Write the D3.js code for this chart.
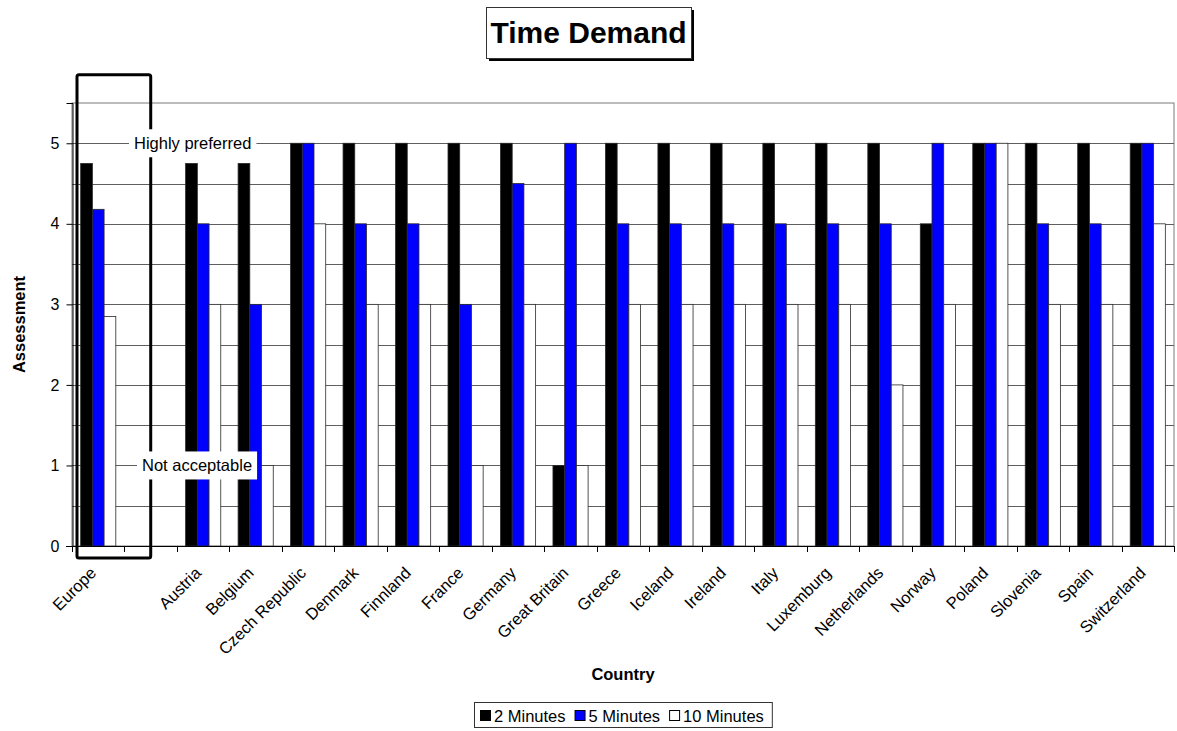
<!DOCTYPE html>
<html>
<head>
<meta charset="utf-8">
<title>Time Demand</title>
<script src="https://cdn.jsdelivr.net/npm/d3@7"></script>
<style>
  html, body { margin: 0; padding: 0; background: #fff; }
  svg { display: block; font-family: Arial, "Liberation Sans", sans-serif; }
</style>
</head>
<body>
<svg id="chart" width="1177" height="731"></svg>
<script>
// Countries (the empty entry leaves a gap after the European average)
const categories = ["Europe", "", "Austria", "Belgium", "Czech Republic", "Denmark", "Finnland",
  "France", "Germany", "Great Britain", "Greece", "Iceland", "Ireland", "Italy", "Luxemburg",
  "Netherlands", "Norway", "Poland", "Slovenia", "Spain", "Switzerland"];

// Assessment per waiting time
const twoMinutes  = [4.75, null, 4.75, 4.75, 5, 5, 5, 5, 5, 1, 5, 5, 5, 5, 5, 5, 4, 5, 5, 5, 5];
const fiveMinutes = [4.18, null, 4, 3, 5, 4, 4, 3, 4.5, 5, 4, 4, 4, 4, 4, 4, 5, 5, 4, 4, 5];
const tenMinutes  = [2.85, null, 3, 1, 4, 3, 3, 1, 3, 1, 3, 3, 3, 3, 3, 2, 3, 5, 3, 3, 4];

const seriesNames  = ["2 Minutes", "5 Minutes", "10 Minutes"];
const seriesColors = ["#000000", "#0000ff", "#ffffff"];
const yTicks = [0, 1, 2, 3, 4, 5];

const title = "Time Demand";
const xTitle = "Country";
const yTitle = "Assessment";
const topNote = "Highly preferred";
const bottomNote = "Not acceptable";

const seriesValues = [twoMinutes, fiveMinutes, tenMinutes];

const svg = d3.select("#chart");
const plot = { left: 72, right: 1174, top: 103, bottom: 546 };

const x = d3.scaleBand().domain(categories).range([plot.left, plot.right]).padding(0);
const xs = d3.scaleBand().domain(seriesNames).range([0, x.bandwidth()])
  .paddingInner(0).paddingOuter(0.74);
const y = d3.scaleLinear().domain([0, 5.5]).range([plot.bottom, plot.top]);

// Plot area frame
svg.append("rect")
  .attr("x", plot.left).attr("y", plot.top)
  .attr("width", plot.right - plot.left).attr("height", plot.bottom - plot.top)
  .attr("fill", "#fff").attr("stroke", "#7a7a7a").attr("stroke-width", 1);

// Horizontal gridlines every half point
const gridVals = d3.range(0.5, 5.01, 0.5);
svg.append("g").selectAll("line").data(gridVals).join("line")
  .attr("x1", plot.left).attr("x2", plot.right)
  .attr("y1", d => Math.round(y(d)) + 0.5).attr("y2", d => Math.round(y(d)) + 0.5)
  .attr("stroke", "#5f5f5f").attr("stroke-width", 1);

// Bars
const rows = [];
categories.forEach((c, i) => {
  seriesNames.forEach((s, j) => {
    const v = seriesValues[j][i];
    if (v != null) rows.push({ c, s, v, j });
  });
});
svg.append("g").selectAll("rect").data(rows).join("rect")
  .attr("x", d => x(d.c) + xs(d.s))
  .attr("y", d => y(d.v))
  .attr("width", xs.bandwidth())
  .attr("height", d => y(0) - y(d.v))
  .attr("fill", d => seriesColors[d.j])
  .attr("stroke", "#2a2a2a").attr("stroke-width", 0.8);

// Y axis
const yAxis = d3.axisLeft(y).tickValues(yTicks).tickSize(6).tickPadding(7)
  .tickFormat(d3.format("d"));
const gy = svg.append("g").attr("transform", `translate(${plot.left + 0.5},0)`).call(yAxis);
gy.attr("font-size", null).attr("font-family", null);
gy.select(".domain").attr("stroke", "#000");
gy.selectAll(".tick line").attr("stroke", "#000");
gy.selectAll(".tick text").attr("font-size", 16).attr("fill", "#000");

// X axis with category boundary ticks
svg.append("line")
  .attr("x1", plot.left - 6).attr("x2", plot.right)
  .attr("y1", plot.bottom + 0.5).attr("y2", plot.bottom + 0.5)
  .attr("stroke", "#000");
const boundaries = categories.map(c => x(c)).concat([plot.right]);
svg.append("g").selectAll("line").data(boundaries).join("line")
  .attr("x1", d => Math.round(d) + 0.5).attr("x2", d => Math.round(d) + 0.5)
  .attr("y1", plot.bottom).attr("y2", plot.bottom + 6)
  .attr("stroke", "#000");

svg.append("g").selectAll("text").data(categories).join("text")
  .attr("transform", d => `translate(${x(d) + x.bandwidth() / 2 - 1},${plot.bottom + 28}) rotate(-45)`)
  .attr("text-anchor", "end")
  .attr("font-size", 16.5)
  .attr("fill", "#000")
  .text(d => d);

// Axis titles
svg.append("text")
  .attr("x", (plot.left + plot.right) / 2).attr("y", 680)
  .attr("text-anchor", "middle").attr("font-size", 16.5).attr("font-weight", "bold")
  .text(xTitle);
svg.append("text")
  .attr("transform", `translate(25,${(plot.top + plot.bottom) / 2}) rotate(-90)`)
  .attr("text-anchor", "middle").attr("font-size", 16.5).attr("font-weight", "bold")
  .text(yTitle);

// Frame around the European average
const euroX0 = x("Europe") + 5;
const euroX1 = x("") + x.bandwidth() / 2;
svg.append("rect")
  .attr("x", euroX0).attr("y", y(5.85))
  .attr("width", euroX1 - euroX0).attr("height", y(-0.15) - y(5.85))
  .attr("rx", 2)
  .attr("fill", "none").attr("stroke", "#000").attr("stroke-width", 3);

// Scale annotations
function note(text, value, xStart) {
  const g = svg.append("g");
  const t = g.append("text")
    .attr("x", xStart).attr("y", y(value))
    .attr("dy", "0.36em")
    .attr("font-size", 16.5).attr("fill", "#000")
    .text(text);
  const w = t.node().getComputedTextLength();
  g.insert("rect", "text")
    .attr("x", xStart - 5).attr("y", y(value) - 14)
    .attr("width", w + 10).attr("height", 28)
    .attr("fill", "#fff");
}
note(topNote, 5, 134);
note(bottomNote, 1, 142);

// Title box with drop shadow
const titleBox = { x: 486, y: 7, w: 205, h: 51 };
svg.append("rect")
  .attr("x", titleBox.x + 3).attr("y", titleBox.y + 3)
  .attr("width", titleBox.w).attr("height", titleBox.h).attr("fill", "#000");
svg.append("rect")
  .attr("x", titleBox.x + 0.5).attr("y", titleBox.y + 0.5)
  .attr("width", titleBox.w).attr("height", titleBox.h)
  .attr("fill", "#fff").attr("stroke", "#333").attr("stroke-width", 1);
svg.append("text")
  .attr("x", titleBox.x + titleBox.w / 2).attr("y", 43)
  .attr("text-anchor", "middle").attr("font-size", 30).attr("font-weight", "bold")
  .text(title);

// Legend
const legend = svg.append("g");
let lx = 480;
const ly = 710;
seriesNames.forEach((s, j) => {
  legend.append("rect")
    .attr("x", lx + 0.5).attr("y", ly + 0.5).attr("width", 10).attr("height", 10)
    .attr("fill", seriesColors[j]).attr("stroke", "#000").attr("stroke-width", 1);
  const t = legend.append("text")
    .attr("x", lx + 14).attr("y", 722)
    .attr("font-size", 16.5).attr("fill", "#000")
    .text(s);
  lx += 14 + t.node().getComputedTextLength() + 9;
});
legend.insert("rect", ":first-child")
  .attr("x", 474.5).attr("y", 702.5)
  .attr("width", lx - 9 + 8 - 474).attr("height", 25)
  .attr("fill", "#fff").attr("stroke", "#333").attr("stroke-width", 1);
</script>
</body>
</html>
